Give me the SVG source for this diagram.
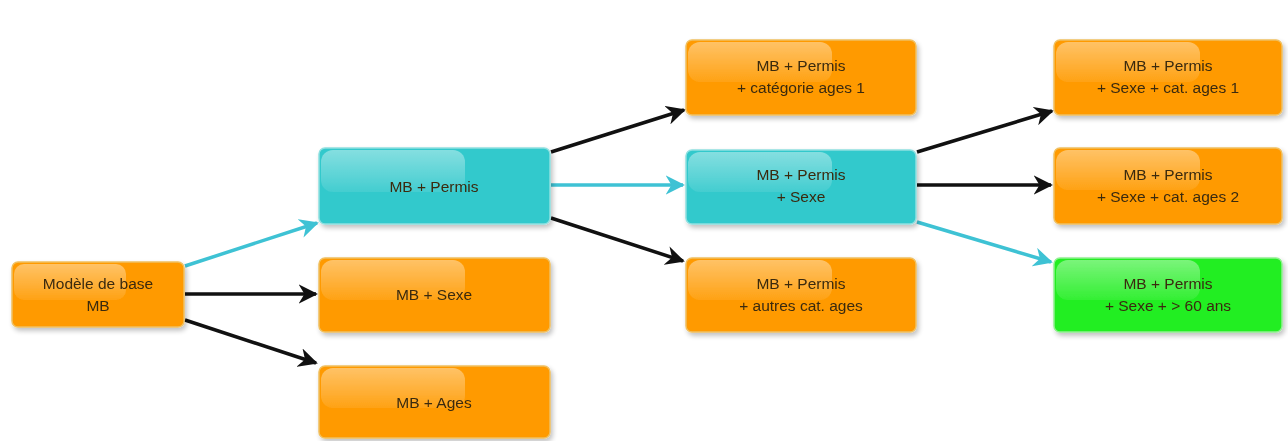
<svg xmlns="http://www.w3.org/2000/svg" width="1288" height="441" viewBox="0 0 1288 441">
<style>
.box{stroke-width:1.5}
.or{fill:#FF9A00;stroke:#F0C060}
.cy{fill:#33C9CC;stroke:#8FE0E0}
.gr{fill:#22EE22;stroke:#90F090}
.hl{fill:url(#hl)}
.t{font-family:"Liberation Sans",Arial,sans-serif;font-size:15.5px;fill:#3a2a10;text-anchor:middle}
.c{fill:none;stroke-width:3.5}
.k{stroke:#111}
.b{stroke:#3EC2D4}
</style>
<defs>
<linearGradient id="hl" x1="0" y1="0" x2="0" y2="1">
<stop offset="0" stop-color="#fff" stop-opacity="0.4"/>
<stop offset="1" stop-color="#fff" stop-opacity="0.08"/>
</linearGradient>
<filter id="sh" x="-10%" y="-10%" width="130%" height="140%">
<feGaussianBlur in="SourceAlpha" stdDeviation="2.5"/>
<feOffset dx="2" dy="3" result="o"/>
<feComponentTransfer><feFuncA type="linear" slope="0.25"/></feComponentTransfer>
<feMerge><feMergeNode/><feMergeNode in="SourceGraphic"/></feMerge>
</filter>
<marker id="ak" viewBox="0 0 10 10" refX="9" refY="5" markerWidth="5.5" markerHeight="5.5" orient="auto" markerUnits="strokeWidth"><path d="M0,0 L10,5 L0,10 L3,5 z" fill="#111"/></marker>
<marker id="ab" viewBox="0 0 10 10" refX="9" refY="5" markerWidth="5.5" markerHeight="5.5" orient="auto" markerUnits="strokeWidth"><path d="M0,0 L10,5 L0,10 L3,5 z" fill="#3EC2D4"/></marker>
</defs>
<g id="connectors">
<line class="c b" x1="185" y1="266" x2="317" y2="223" marker-end="url(#ab)"/>
<line class="c k" x1="185" y1="294" x2="316" y2="294" marker-end="url(#ak)"/>
<line class="c k" x1="185" y1="320" x2="316" y2="363" marker-end="url(#ak)"/>
<line class="c k" x1="551" y1="152" x2="684" y2="110" marker-end="url(#ak)"/>
<line class="c b" x1="551" y1="185" x2="683" y2="185" marker-end="url(#ab)"/>
<line class="c k" x1="551" y1="218" x2="683" y2="261" marker-end="url(#ak)"/>
<line class="c k" x1="917" y1="152" x2="1052" y2="111" marker-end="url(#ak)"/>
<line class="c k" x1="917" y1="185" x2="1051" y2="185" marker-end="url(#ak)"/>
<line class="c b" x1="917" y1="222" x2="1051" y2="262" marker-end="url(#ab)"/>
</g>
<g id="nA" filter="url(#sh)">
<rect class="box or" x="12" y="262" width="172" height="65" rx="6"/>
<rect class="hl" x="14" y="264" width="112" height="36" rx="10"/>
<text class="t" x="98" y="289">Modèle de base</text>
<text class="t" x="98" y="311">MB</text>
</g>
<g id="nB" filter="url(#sh)">
<rect class="box cy" x="319" y="148" width="231" height="76" rx="6"/>
<rect class="hl" x="321" y="150" width="144" height="42" rx="12"/>
<text class="t" x="434" y="192">MB + Permis</text>
</g>
<g id="nC" filter="url(#sh)">
<rect class="box or" x="319" y="258" width="231" height="74" rx="6"/>
<rect class="hl" x="321" y="260" width="144" height="40" rx="12"/>
<text class="t" x="434" y="300">MB + Sexe</text>
</g>
<g id="nD" filter="url(#sh)">
<rect class="box or" x="319" y="366" width="231" height="72" rx="6"/>
<rect class="hl" x="321" y="368" width="144" height="40" rx="12"/>
<text class="t" x="434" y="408">MB + Ages</text>
</g>
<g id="nE" filter="url(#sh)">
<rect class="box or" x="686" y="40" width="230" height="75" rx="6"/>
<rect class="hl" x="688" y="42" width="144" height="40" rx="12"/>
<text class="t" x="801" y="71">MB + Permis</text>
<text class="t" x="801" y="93">+ catégorie ages 1</text>
</g>
<g id="nF" filter="url(#sh)">
<rect class="box cy" x="686" y="150" width="230" height="74" rx="6"/>
<rect class="hl" x="688" y="152" width="144" height="40" rx="12"/>
<text class="t" x="801" y="180">MB + Permis</text>
<text class="t" x="801" y="202">+ Sexe</text>
</g>
<g id="nG" filter="url(#sh)">
<rect class="box or" x="686" y="258" width="230" height="74" rx="6"/>
<rect class="hl" x="688" y="260" width="144" height="40" rx="12"/>
<text class="t" x="801" y="289">MB + Permis</text>
<text class="t" x="801" y="311">+ autres cat. ages</text>
</g>
<g id="nH" filter="url(#sh)">
<rect class="box or" x="1054" y="40" width="228" height="75" rx="6"/>
<rect class="hl" x="1056" y="42" width="144" height="40" rx="12"/>
<text class="t" x="1168" y="71">MB + Permis</text>
<text class="t" x="1168" y="93">+ Sexe + cat. ages 1</text>
</g>
<g id="nI" filter="url(#sh)">
<rect class="box or" x="1054" y="148" width="228" height="76" rx="6"/>
<rect class="hl" x="1056" y="150" width="144" height="40" rx="12"/>
<text class="t" x="1168" y="180">MB + Permis</text>
<text class="t" x="1168" y="202">+ Sexe + cat. ages 2</text>
</g>
<g id="nJ" filter="url(#sh)">
<rect class="box gr" x="1054" y="258" width="228" height="74" rx="6"/>
<rect class="hl" x="1056" y="260" width="144" height="40" rx="12"/>
<text class="t" x="1168" y="289">MB + Permis</text>
<text class="t" x="1168" y="311">+ Sexe + &gt; 60 ans</text>
</g>
</svg>
